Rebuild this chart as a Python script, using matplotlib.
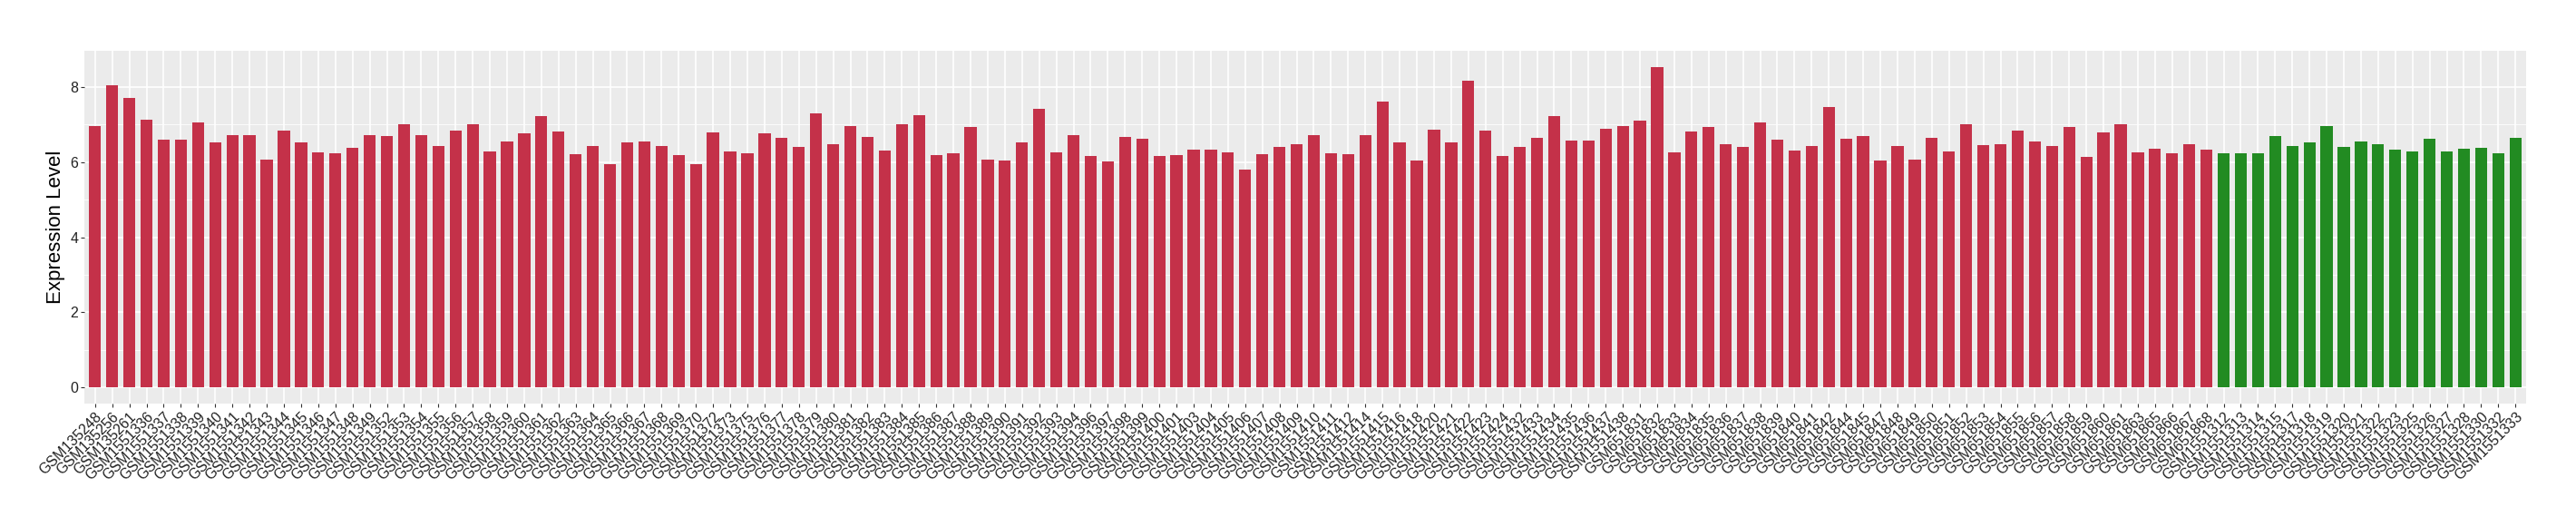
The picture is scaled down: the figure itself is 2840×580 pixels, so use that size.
import matplotlib
matplotlib.use('Agg')
import matplotlib.pyplot as plt
import numpy as np

# sample names (x categories), in plotted order
tumor_samples = [
    'GSM135248', 'GSM135256', 'GSM135261',
    'GSM1551336', 'GSM1551337', 'GSM1551338', 'GSM1551339', 'GSM1551340',
    'GSM1551341', 'GSM1551342', 'GSM1551343', 'GSM1551344', 'GSM1551345',
    'GSM1551346', 'GSM1551347', 'GSM1551348', 'GSM1551349', 'GSM1551352',
    'GSM1551353', 'GSM1551354', 'GSM1551355', 'GSM1551356', 'GSM1551357',
    'GSM1551358', 'GSM1551359', 'GSM1551360', 'GSM1551361', 'GSM1551362',
    'GSM1551363', 'GSM1551364', 'GSM1551365', 'GSM1551366', 'GSM1551367',
    'GSM1551368', 'GSM1551369', 'GSM1551370', 'GSM1551372', 'GSM1551373',
    'GSM1551375', 'GSM1551376', 'GSM1551377', 'GSM1551378', 'GSM1551379',
    'GSM1551380', 'GSM1551381', 'GSM1551382', 'GSM1551383', 'GSM1551384',
    'GSM1551385', 'GSM1551386', 'GSM1551387', 'GSM1551388', 'GSM1551389',
    'GSM1551390', 'GSM1551391', 'GSM1551392', 'GSM1551393', 'GSM1551394',
    'GSM1551396', 'GSM1551397', 'GSM1551398', 'GSM1551399', 'GSM1551400',
    'GSM1551401', 'GSM1551403', 'GSM1551404', 'GSM1551405', 'GSM1551406',
    'GSM1551407', 'GSM1551408', 'GSM1551409', 'GSM1551410', 'GSM1551411',
    'GSM1551412', 'GSM1551414', 'GSM1551415', 'GSM1551416', 'GSM1551418',
    'GSM1551420', 'GSM1551421', 'GSM1551422', 'GSM1551423', 'GSM1551424',
    'GSM1551432', 'GSM1551433', 'GSM1551434', 'GSM1551435', 'GSM1551436',
    'GSM1551437', 'GSM1551438',
    'GSM651831', 'GSM651832', 'GSM651833', 'GSM651834', 'GSM651835',
    'GSM651836', 'GSM651837', 'GSM651838', 'GSM651839', 'GSM651840',
    'GSM651841', 'GSM651842', 'GSM651844', 'GSM651845', 'GSM651847',
    'GSM651848', 'GSM651849', 'GSM651850', 'GSM651851', 'GSM651852',
    'GSM651853', 'GSM651854', 'GSM651855', 'GSM651856', 'GSM651857',
    'GSM651858', 'GSM651859', 'GSM651860', 'GSM651861', 'GSM651863',
    'GSM651865', 'GSM651866', 'GSM651867', 'GSM651868',
]

tumor_values = [
    6.96, 8.06, 7.72,
    7.14, 6.59, 6.59, 7.05, 6.52,
    6.73, 6.71, 6.06, 6.83, 6.52,
    6.25, 6.23, 6.38, 6.71, 6.69,
    7.00, 6.73, 6.42, 6.83, 7.00,
    6.28, 6.55, 6.76, 7.22, 6.81,
    6.21, 6.42, 5.94, 6.52, 6.55,
    6.42, 6.18, 5.94, 6.79, 6.28,
    6.23, 6.76, 6.64, 6.40, 7.29,
    6.47, 6.96, 6.66, 6.31, 7.00,
    7.24, 6.18, 6.23, 6.93, 6.06,
    6.04, 6.52, 7.41, 6.25, 6.73,
    6.16, 6.01, 6.66, 6.62, 6.16,
    6.18, 6.33, 6.33, 6.25, 5.80,
    6.21, 6.40, 6.49, 6.73, 6.23,
    6.21, 6.73, 7.61, 6.52, 6.04,
    6.86, 6.52, 8.18, 6.83, 6.16,
    6.40, 6.64, 7.22, 6.57, 6.57,
    6.88, 6.96,
    7.10, 8.54, 6.25, 6.81, 6.93,
    6.49, 6.40, 7.07, 6.59, 6.31,
    6.42, 7.48, 6.62, 6.69, 6.04,
    6.42, 6.06, 6.64, 6.28, 7.00,
    6.45, 6.47, 6.83, 6.55, 6.42,
    6.93, 6.14, 6.79, 7.00, 6.25,
    6.35, 6.23, 6.47, 6.33,
]

normal_samples = [
    'GSM1551312', 'GSM1551313', 'GSM1551314', 'GSM1551315', 'GSM1551317',
    'GSM1551318', 'GSM1551319', 'GSM1551320', 'GSM1551321', 'GSM1551322',
    'GSM1551323', 'GSM1551325', 'GSM1551326', 'GSM1551327', 'GSM1551328',
    'GSM1551330', 'GSM1551332', 'GSM1551333',
]

normal_values = [
    6.23, 6.23, 6.23, 6.69, 6.42,
    6.52, 6.96, 6.40, 6.55, 6.49,
    6.33, 6.28, 6.62, 6.28, 6.35,
    6.38, 6.23, 6.64,
]

y_ticks = [0, 2, 4, 6, 8]


def main():
    plt.rcParams['font.family'] = ['Liberation Sans', 'DejaVu Sans']

    samples = tumor_samples + normal_samples
    values = tumor_values + normal_values
    colors = ['#C43149'] * len(tumor_values) + ['#228B22'] * len(normal_values)
    x = np.arange(len(samples))

    fig = plt.figure(figsize=(28.4, 5.8), dpi=100)
    ax = fig.add_axes([0.0329, 0.2333, 0.9476, 0.6701])

    ax.set_facecolor('#EBEBEB')
    for spine in ax.spines.values():
        spine.set_visible(False)

    # ggplot-like grid
    for v in [1, 3, 5, 7]:
        ax.axhline(v, color='white', linewidth=0.6, zorder=0)
    ax.grid(True, which='major', color='white', linewidth=1.2, zorder=0)
    ax.set_axisbelow(True)

    ax.bar(x, values, width=0.7, color=colors, zorder=2)

    ymax = max(values)
    pad = 0.05 * ymax
    ax.set_ylim(-pad, ymax + pad)
    ax.set_xlim(-0.6, len(samples) - 0.4)

    ax.set_yticks(y_ticks)
    ax.set_yticklabels([str(t) for t in y_ticks], fontsize=11.5, color='#222222')
    ax.set_xticks(x)
    ax.set_xticklabels(samples, rotation=45, ha='right', rotation_mode='anchor',
                       fontsize=11.5, color='#222222')
    ax.tick_params(axis='both', length=3, width=0.8, color='#333333', pad=2)

    ax.set_ylabel('Expression Level', fontsize=16, color='black', labelpad=4)

    fig.savefig('out.png', dpi=100)


if __name__ == '__main__':
    main()
